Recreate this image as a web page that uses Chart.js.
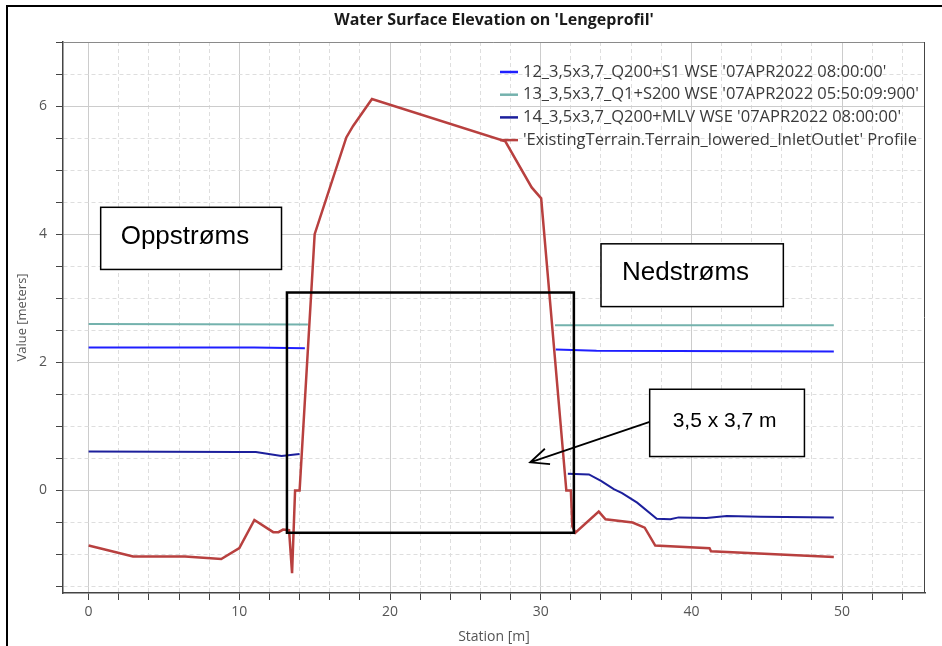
<!DOCTYPE html>
<html>
<head>
<meta charset="utf-8">
<script src="https://cdn.jsdelivr.net/npm/chart.js@4.4.1/dist/chart.umd.min.js"></script>
<style>
  html, body { margin: 0; padding: 0; background: #fff; overflow: hidden; }
  #wrap { position: relative; width: 942px; height: 646px; }
  #frame { position: absolute; left: 6px; top: 5px; width: 960px; height: 700px;
           border-left: 2px solid #000; border-top: 2px solid #000; pointer-events: none; }
</style>
</head>
<body>
<div id="wrap">
  <canvas id="myChart" width="942" height="646"></canvas>
  <div id="frame"></div>
</div>
<script>
// Terrain profile (station m, elevation m)
var terrainStation = [0, 2.95, 6.4, 8.8, 10.0, 11.0, 12.25, 12.6, 12.9, 13.3, 13.5, 13.7, 14.0, 15.0, 17.1, 17.55, 18.8, 27.65, 29.4, 30.03, 31.7, 32.0, 32.1, 32.3, 33.85, 34.3, 36.1, 36.9, 37.6, 41.2, 41.3, 49.45];
var terrainElev = [-0.86, -1.03, -1.03, -1.07, -0.9, -0.46, -0.65, -0.65, -0.61, -0.62, -1.29, 0.0, 0.0, 4.0, 5.51, 5.69, 6.11, 5.45, 4.73, 4.56, 0.0, 0.0, -0.56, -0.66, -0.33, -0.45, -0.5, -0.58, -0.86, -0.9, -0.95, -1.04];

// Water surfaces (null = gap at the culvert)
var s1Station = [0, 11.0, 14.35, 22, 31.0, 33.7, 49.45];
var s1Elev = [2.23, 2.23, 2.22, null, 2.2, 2.18, 2.17];

var q1Station = [0, 14.55, 22, 30.95, 49.45];
var q1Elev = [2.6, 2.59, null, 2.58, 2.58];

var mlvStation = [0, 10.0, 11.1, 12.8, 14.0, 22, 31.8, 33.2, 34.0, 34.85, 35.4, 36.4, 37.7, 38.6, 39.15, 41.0, 42.35, 44.6, 49.45];
var mlvElev = [0.61, 0.6, 0.6, 0.54, 0.57, null, 0.26, 0.25, 0.15, 0.02, -0.04, -0.19, -0.44, -0.45, -0.42, -0.43, -0.4, -0.41, -0.42];

var seriesLabels = [
	"12_3,5x3,7_Q200+S1 WSE '07APR2022 08:00:00'",
	"13_3,5x3,7_Q1+S200 WSE '07APR2022 05:50:09:900'",
	"14_3,5x3,7_Q200+MLV WSE '07APR2022 08:00:00'",
	"'ExistingTerrain.Terrain_lowered_InletOutlet' Profile"
];

function pts(xs, ys) {
	return xs.map(function (x, i) { return {x: x, y: ys[i]}; });
}

// annotation boxes drawn on top (data units)
var notes = [
	{text: 'Oppstrøms', x1: 0.8, x2: 12.8, y1: 4.42, y2: 3.45, size: 26, pad: 20},
	{text: 'Nedstrøms', x1: 34.0, x2: 46.1, y1: 3.85, y2: 2.87, size: 26, pad: 21},
	{text: '3,5 x 3,7 m', x1: 37.23, x2: 47.5, y1: 1.58, y2: 0.53, size: 21, pad: 23}
];
var culvert = {x1: 13.16, x2: 32.2, y1: 3.09, y2: -0.66};
var arrow = {x1: 37.23, y1: 1.07, x2: 29.3, y2: 0.44};

var overlay = {
	id: 'overlay',
	afterDatasetsDraw: function (chart) {
		var ctx = chart.ctx, xs = chart.scales.x, ys = chart.scales.y, a = chart.chartArea;
		ctx.save();
		// plot frame top/right
		ctx.strokeStyle = '#8a8a8a';
		ctx.lineWidth = 1;
		ctx.beginPath();
		ctx.moveTo(a.left, a.top + 0.5);
		ctx.lineTo(a.right - 0.5, a.top + 0.5);
		ctx.stroke();
		ctx.strokeStyle = '#444';
		ctx.beginPath();
		ctx.moveTo(a.right - 0.5, a.top);
		ctx.lineTo(a.right - 0.5, a.bottom);
		ctx.stroke();

		// culvert rectangle
		ctx.strokeStyle = '#000';
		ctx.lineWidth = 2.5;
		var cx1 = xs.getPixelForValue(culvert.x1), cx2 = xs.getPixelForValue(culvert.x2);
		var cy1 = ys.getPixelForValue(culvert.y1), cy2 = ys.getPixelForValue(culvert.y2);
		ctx.strokeRect(cx1, cy1, cx2 - cx1, cy2 - cy1);

		// arrow
		var ax1 = xs.getPixelForValue(arrow.x1), ay1 = ys.getPixelForValue(arrow.y1);
		var ax2 = xs.getPixelForValue(arrow.x2), ay2 = ys.getPixelForValue(arrow.y2);
		var ang = Math.atan2(ay1 - ay2, ax1 - ax2);
		ctx.lineWidth = 1.8;
		ctx.beginPath();
		ctx.moveTo(ax1, ay1);
		ctx.lineTo(ax2, ay2);
		ctx.moveTo(ax2 + 20 * Math.cos(ang - 0.42), ay2 + 20 * Math.sin(ang - 0.42));
		ctx.lineTo(ax2, ay2);
		ctx.lineTo(ax2 + 20 * Math.cos(ang + 0.42), ay2 + 20 * Math.sin(ang + 0.42));
		ctx.stroke();

		// text boxes
		notes.forEach(function (n) {
			var x1 = xs.getPixelForValue(n.x1), x2 = xs.getPixelForValue(n.x2);
			var y1 = ys.getPixelForValue(n.y1), y2 = ys.getPixelForValue(n.y2);
			ctx.fillStyle = '#fff';
			ctx.fillRect(x1, y1, x2 - x1, y2 - y1);
			ctx.lineWidth = 1.5;
			ctx.strokeStyle = '#000';
			ctx.strokeRect(x1, y1, x2 - x1, y2 - y1);
			ctx.fillStyle = '#000';
			ctx.font = n.size + 'px "Liberation Sans", Arial, sans-serif';
			ctx.textAlign = 'left';
			ctx.textBaseline = 'middle';
			ctx.fillText(n.text, x1 + n.pad, (y1 + y2) / 2 - 2);
		});

		// legend inside plot, top right
		var lx = a.left + 437, ly = a.top + 30;
		ctx.font = '16.5px "Open Sans", sans-serif';
		ctx.textBaseline = 'middle';
		chart.data.datasets.forEach(function (ds, i) {
			var y = ly + i * 22.7;
			ctx.strokeStyle = ds.borderColor;
			ctx.lineWidth = 2.5;
			ctx.beginPath();
			ctx.moveTo(lx, y);
			ctx.lineTo(lx + 18, y);
			ctx.stroke();
			ctx.fillStyle = '#3a3a3a';
			ctx.fillText(ds.label, lx + 23, y);
		});
		ctx.restore();
	}
};

function isMajor(v, step) {
	var r = Math.abs(v / step - Math.round(v / step));
	return r < 1e-6;
}

var ctx = document.getElementById('myChart').getContext('2d');
var myChart = new Chart(ctx, {
	type: 'line',
	data: {
		datasets: [{
			label: seriesLabels[0],
			data: pts(s1Station, s1Elev),
			borderColor: '#1f1fff',
			borderWidth: 2
		}, {
			label: seriesLabels[1],
			data: pts(q1Station, q1Elev),
			borderColor: '#74b2ad',
			borderWidth: 2
		}, {
			label: seriesLabels[2],
			data: pts(mlvStation, mlvElev),
			borderColor: '#1c1f9c',
			borderWidth: 2
		}, {
			label: seriesLabels[3],
			data: pts(terrainStation, terrainElev),
			borderColor: '#b8403f',
			borderWidth: 2.5
		}]
	},
	options: {
		responsive: false,
		animation: false,
		devicePixelRatio: 1,
		spanGaps: false,
		elements: {
			point: { radius: 0 },
			line: { tension: 0 }
		},
		layout: { padding: { left: 0, right: 17, top: 0, bottom: 0 } },
		plugins: {
			legend: { display: false },
			tooltip: { enabled: false },
			title: {
				display: true,
				fullSize: false,
				text: "Water Surface Elevation on 'Lengeprofil'",
				color: '#1a1a1a',
				font: { family: '"Open Sans", sans-serif', size: 16, weight: 'bold', lineHeight: 1 },
				padding: { top: 12, bottom: 14 }
			}
		},
		scales: {
			x: {
				type: 'linear',
				min: -1.7,
				max: 55.5,
				afterFit: function (scale) { scale.height = 53; },
				ticks: {
					stepSize: 2,
					includeBounds: false,
					autoSkip: false,
					maxRotation: 0,
					color: '#555',
					padding: 4,
					font: { family: '"Open Sans", sans-serif', size: 14 },
					callback: function (v) { return isMajor(v, 10) ? v : ''; }
				},
				grid: {
					color: function (c) { return c.tick && isMajor(c.tick.value, 10) ? '#cccccc' : '#dedede'; },
					tickColor: '#444',
					tickLength: 7
				},
				border: {
					color: '#444',
					width: 1.5,
					dash: function (c) { return c.tick && !isMajor(c.tick.value, 10) ? [4, 3] : []; }
				},
				title: {
					display: true,
					text: 'Station [m]',
					color: '#555',
					font: { family: '"Open Sans", sans-serif', size: 14 },
					padding: { top: 0, bottom: 1 }
				}
			},
			y: {
				type: 'linear',
				min: -1.6,
				max: 7.0,
				afterFit: function (scale) { scale.width = 63; },
				ticks: {
					stepSize: 0.5,
					includeBounds: false,
					autoSkip: false,
					color: '#555',
					padding: 9,
					font: { family: '"Open Sans", sans-serif', size: 14 },
					callback: function (v) { return isMajor(v, 2) ? v : ''; }
				},
				grid: {
					color: function (c) { return c.tick && isMajor(c.tick.value, 2) ? '#cccccc' : '#dedede'; },
					tickColor: '#444',
					tickLength: 7
				},
				border: {
					color: '#444',
					width: 1.5,
					dash: function (c) { return c.tick && !isMajor(c.tick.value, 2) ? [4, 3] : []; }
				},
				title: {
					display: true,
					text: 'Value [meters]',
					color: '#555',
					font: { family: '"Open Sans", sans-serif', size: 13 },
					padding: { top: 14, bottom: 0 }
				}
			}
		}
	},
	plugins: [overlay]
});
</script>
</body>
</html>
